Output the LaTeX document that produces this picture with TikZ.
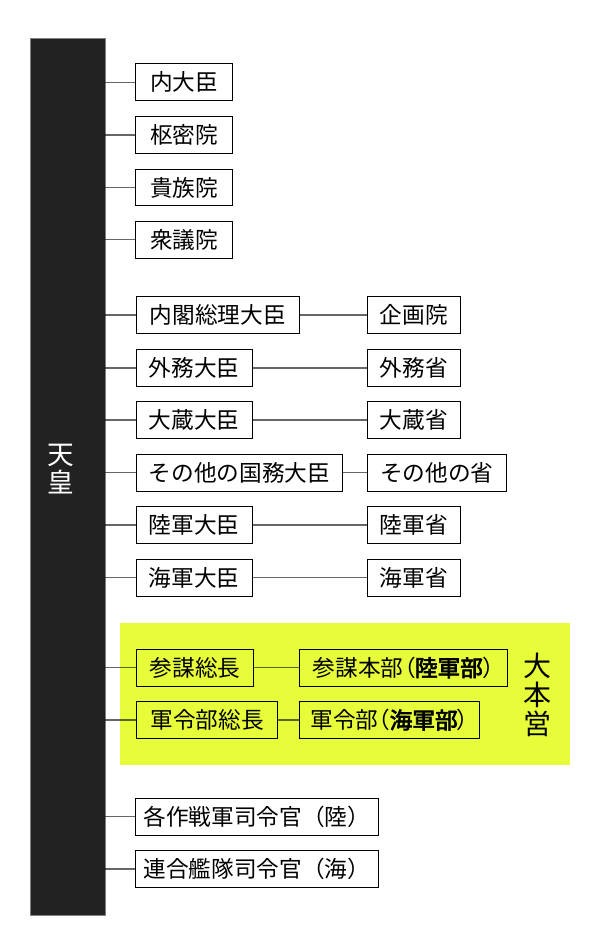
\documentclass[tikz,border=0pt]{standalone}
\usepackage{fontspec}
\setmainfont{Noto Sans CJK JP}[AutoFakeBold=3]
\newfontfamily\jpalt{Noto Sans CJK JP}[RawFeature=+palt]
\newcommand\kakkoL{{\jpalt （}}
\newcommand\kakkoR{{\jpalt ）}}
\definecolor{barblack}{RGB}{34,34,34}
\definecolor{honei}{RGB}{232,253,58}
\begin{document}
\begin{tikzpicture}[x=0.75pt,y=-0.75pt,
box/.style={draw=black,line width=0.8pt,anchor=west,inner xsep=1pt,minimum height=27.5pt,font=\fontsize{17}{20}\selectfont},
bw/.style={minimum width=#1*0.75pt},
conn/.style={draw=black,draw opacity=.6,line width=0.8pt}]
\useasboundingbox(0,0)rectangle(600,938);
\fill[honei](120,622.7)rectangle(570,765);
\node[fill=barblack,draw=gray,line width=0.5pt,minimum width=56.25pt,minimum height=657.75pt,inner sep=0pt](tenno)at(67.5,476.5){};
\node[text=white,align=center,font=\fontsize{20}{21}\selectfont](tennolabel)at(61,469){天\\皇};
\node[align=center,font=\fontsize{21}{21.75}\selectfont](daihonei)at(537,695){大\\本\\営};
% 天皇直属
\node[box,bw=97](naidaijin)at(135,82.3){内大臣};
\node[box,bw=97](sumitsuin)at(135,135){枢密院};
\node[box,bw=97](kizokuin)at(135,187.5){貴族院};
\node[box,bw=97](shugiin)at(135,239.7){衆議院};
% 内閣
\node[box,bw=163.7](sori)at(135.5,315){内閣総理大臣};
\node[box,bw=116](gaimu)at(135.5,368){外務大臣};
\node[box,bw=116](okura)at(135.5,420){大蔵大臣};
\node[box,bw=206.7](kokumu)at(135.5,472.7){その他の国務大臣};
\node[box,bw=116](rikugun)at(135.5,525){陸軍大臣};
\node[box,bw=116](kaigun)at(135.5,577.7){海軍大臣};
\node[box,bw=93.3](kikakuin)at(366.7,315){企画院};
\node[box,bw=93.3](gaimusho)at(366.7,368){外務省};
\node[box,bw=93.3](okurasho)at(366.7,420){大蔵省};
\node[box,bw=139.3](sonota)at(366.7,472.7){その他の省};
\node[box,bw=93.3](rikugunsho)at(366.7,525){陸軍省};
\node[box,bw=93.3](kaigunsho)at(366.7,577.7){海軍省};
% 大本営
\node[box,bw=117.6](sanbo)at(135.7,667.7){参謀総長};
\node[box,bw=141.6](gunrei)at(135.7,720){軍令部総長};
\node[box,bw=207.4](sanbohonbu)at(299.3,667.7){参謀本部\kakkoL{\bfseries 陸軍部}\kakkoR};
\node[box,bw=179.7](gunreibu)at(299.3,720){軍令部\kakkoL{\bfseries 海軍部}\kakkoR};
% 司令官
\node[box,bw=242.7](sakusen)at(135,816.7){各作戦軍司令官（陸）};
\node[box,bw=242.7](rengo)at(135,869){連合艦隊司令官（海）};
\foreach \n in {naidaijin,sumitsuin,kizokuin,shugiin,sori,gaimu,okura,kokumu,rikugun,kaigun,sanbo,gunrei,sakusen,rengo}
\draw[conn](tenno.east|-\n.west)--(\n.west);
\foreach \a/\b in {sori/kikakuin,gaimu/gaimusho,okura/okurasho,kokumu/sonota,rikugun/rikugunsho,kaigun/kaigunsho,sanbo/sanbohonbu,gunrei/gunreibu}
\draw[conn](\a.east)--(\b.west);
\end{tikzpicture}
\end{document}
